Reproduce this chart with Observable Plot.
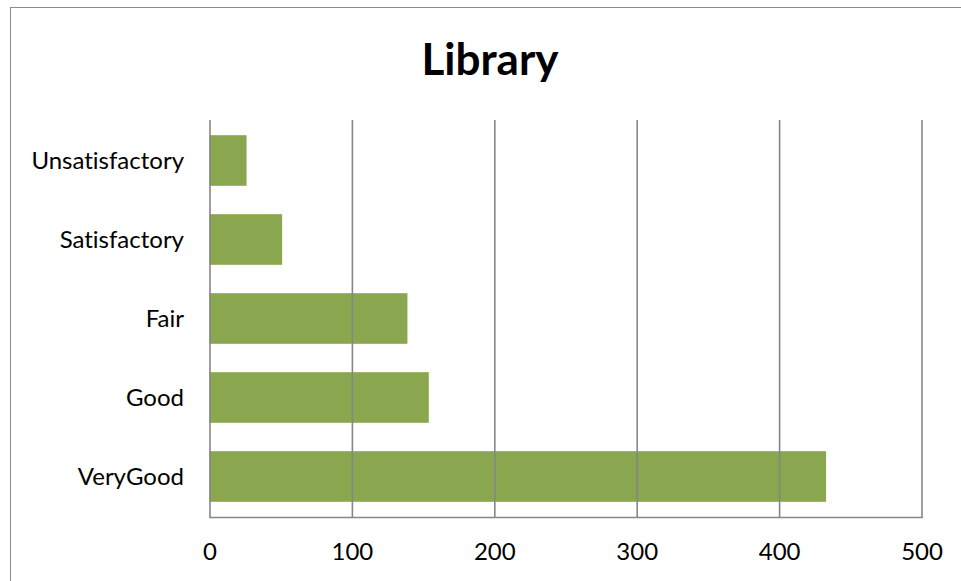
<!DOCTYPE html>
<html>
<head>
<meta charset="utf-8">
<script src="https://cdn.jsdelivr.net/npm/d3@7"></script>
<script src="https://cdn.jsdelivr.net/npm/@observablehq/plot@0.6"></script>
<style>
  html, body { margin: 0; padding: 0; background: #fff; }
  body { width: 961px; height: 581px; overflow: hidden; position: relative; font-family: Lato, "Open Sans", sans-serif; font-variant-ligatures: none; }
  #frame { position: absolute; left: 10px; top: 7px; width: 1000px; height: 700px; border: 1.6px solid #8c8c8c; box-sizing: border-box; }
  #title { position: absolute; left: 0; width: 980px; top: 30px; text-align: center; font-size: 44px; font-weight: bold; color: #000; line-height: 56px; }
  #chart { position: absolute; left: 0; top: 100px; }
  #chart svg text { font-variant-ligatures: none; }
</style>
</head>
<body>
<div id="frame"></div>
<div id="title">Library</div>
<div id="chart"></div>
<script>
const categories = ["Unsatisfactory", "Satisfactory", "Fair", "Good", "VeryGood"];
const values = [26, 51, 139, 154, 433];
const xTicks = [0, 100, 200, 300, 400, 500];

const data = categories.map((c, i) => ({category: c, value: values[i]}));

const plot = Plot.plot({
  width: 961,
  height: 481,
  marginLeft: 209.5,
  marginRight: 39.5,
  marginTop: 20,
  marginBottom: 64,
  style: {fontFamily: "Lato, 'Open Sans', sans-serif", fontSize: "24px", color: "#000", background: "transparent"},
  x: {domain: [0, 500], ticks: xTicks, label: null},
  y: {domain: categories, padding: 0, label: null},
  marks: [
    Plot.barX(data, {x: "value", y: "category", fill: "#8aa64f", insetTop: 14.2, insetBottom: 14.2}),
    Plot.gridX(xTicks, {stroke: "#868686", strokeOpacity: 1, strokeWidth: 1.6}),
    Plot.frame({anchor: "bottom", stroke: "#868686", strokeWidth: 1.6}),
    Plot.axisX(xTicks, {tickSize: 0, tickPadding: 25, fontSize: 24, label: null, tickFormat: d => String(d)}),
    Plot.axisY({tickSize: 0, tickPadding: 26, fontSize: 24, label: null})
  ]
});
document.getElementById("chart").appendChild(plot);
</script>
</body>
</html>
